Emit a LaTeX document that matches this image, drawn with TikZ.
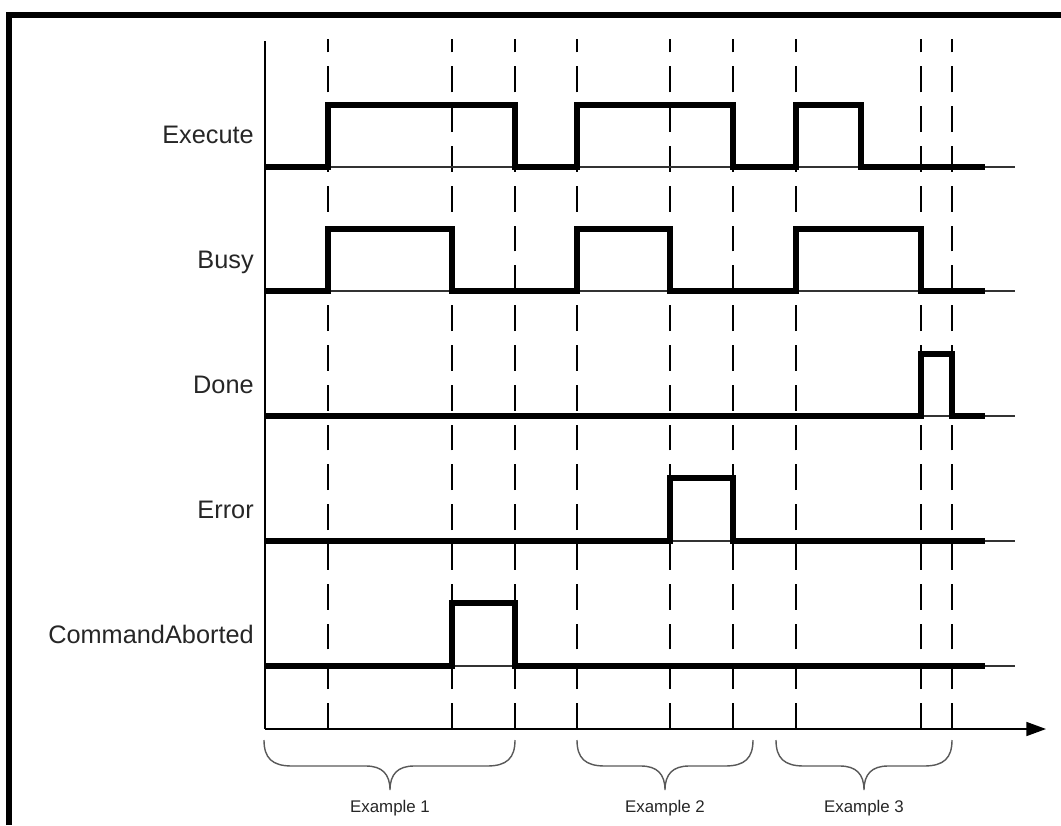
\documentclass[tikz,border=0pt]{standalone}
\usepackage{fontspec}
\setmainfont{Liberation Sans}
\usetikzlibrary{arrows.meta}

\begin{document}
\begin{tikzpicture}[x=0.025cm,y=-0.025cm,
    sig/.style={line width=3.9pt,line join=miter},
    base/.style={line width=0.8pt,draw=black!80},
    tline/.style={line width=0.9pt,dash pattern=on 18.4pt off 9.9pt},
    lbl/.style={anchor=base east,inner sep=0pt,font=\fontsize{18}{20}\selectfont,text=black!85},
    brc/.style={line width=1pt,draw=black!65},
    exlbl/.style={anchor=base,inner sep=0pt,font=\fontsize{12}{14}\selectfont,text=black!85}]
  \useasboundingbox (0,0) rectangle (1061,825);
  \draw[line width=3.6pt] (9,825) -- (9,15) -- (1061,15);
  % time marks
  \foreach \x in {328,452,515,577,670,733,796,921,952}
    \draw[tline] (\x,729) -- (\x,39);
  \draw[line width=1pt] (265,41) -- (265,729);
  \draw[line width=1pt,-{Triangle[length=14pt,width=10pt]}] (265,729) -- (1046,729);
  % baselines
  \foreach \y in {167,291,416,541,666}
    \draw[base] (265,\y) -- (1015,\y);
  % signals
  \node[lbl] (execute) at (254,143) {Execute};
  \draw[sig] (265,167) -| (328,105) -| (515,167) -| (577,105) -| (733,167) -| (796,105) -| (861,167) -- (985,167);
  \node[lbl] (busy) at (254,268) {Busy};
  \draw[sig] (265,291) -| (328,229) -| (452,291) -| (577,229) -| (670,291) -| (796,229) -| (921,291) -- (985,291);
  \node[lbl] (done) at (254,393) {Done};
  \draw[sig] (265,416) -| (921,354) -| (952,416) -- (985,416);
  \node[lbl] (error) at (254,518) {Error};
  \draw[sig] (265,541) -| (670,478) -| (733,541) -- (985,541);
  \node[lbl] (aborted) at (254,643) {CommandAborted};
  \draw[sig] (265,666) -| (452,603) -| (515,666) -- (985,666);
  % examples
  \foreach \a/\m/\b/\n in {264/390/515/1,577/665/753/2,776/864/952/3} {
    \draw[brc] (\a,740) .. controls (\a,758) and (\a+8,766) .. (\a+28,766) -- (\m-24,766)
      .. controls (\m-8,766) and (\m,774) .. (\m,790)
      .. controls (\m,774) and (\m+8,766) .. (\m+24,766) -- (\b-28,766)
      .. controls (\b-8,766) and (\b,758) .. (\b,740);
    \node[exlbl] (ex\n) at (\m,812) {Example \n};
  }
\end{tikzpicture}
\end{document}
